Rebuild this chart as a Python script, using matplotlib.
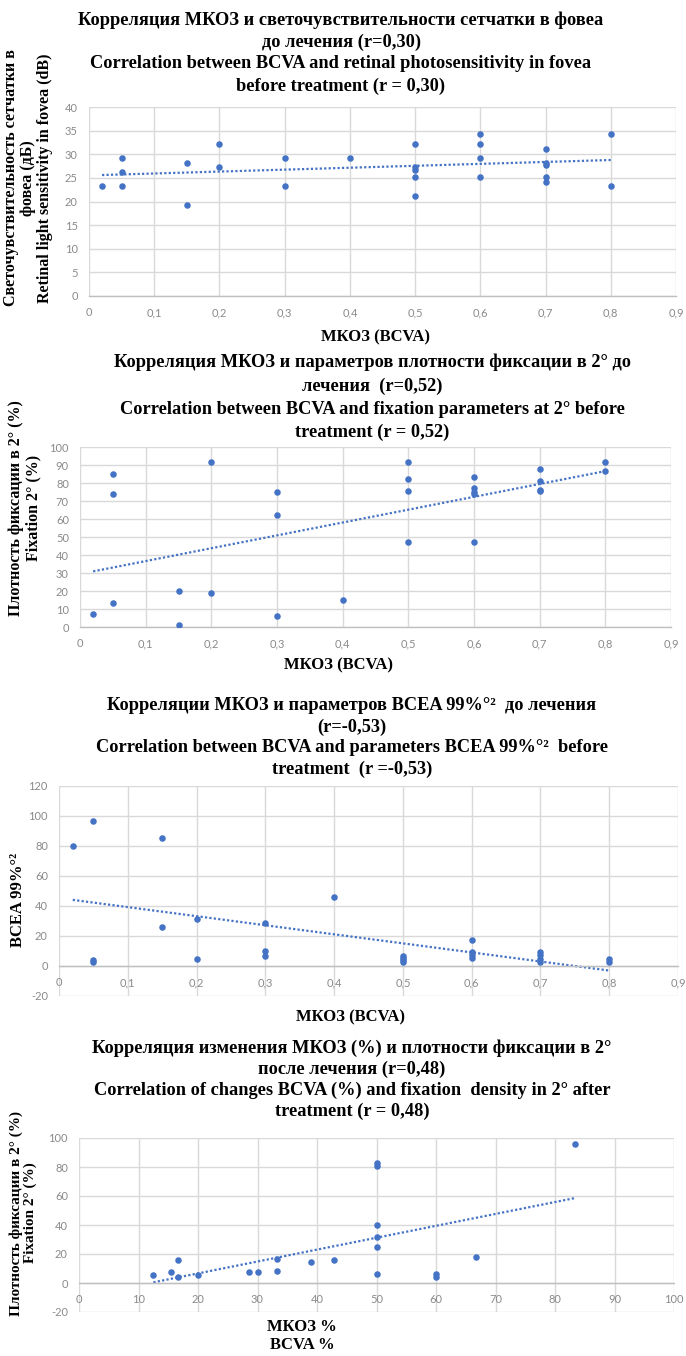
import numpy as np
import matplotlib
matplotlib.use("Agg")
import matplotlib.pyplot as plt

# ---------------- data ----------------
# Panel 1: BCVA vs retinal photosensitivity in fovea (dB), before treatment
bcva_fovea = [0.02, 0.05, 0.05, 0.05, 0.15, 0.15, 0.2, 0.2, 0.3, 0.3, 0.4,
              0.5, 0.5, 0.5, 0.5, 0.5, 0.6, 0.6, 0.6, 0.6,
              0.7, 0.7, 0.7, 0.7, 0.7, 0.8, 0.8]
sens_fovea = [23.2, 29.2, 26.2, 23.2, 28.2, 19.2, 32.2, 27.2, 29.2, 23.2, 29.2,
              32.2, 27.2, 26.6, 25.2, 21.2, 34.2, 32.2, 29.2, 25.2,
              31.2, 28.2, 27.8, 25.2, 24.2, 34.2, 23.2]

# Panel 2: BCVA vs fixation density at 2 degrees (%), before treatment
bcva_fix = [0.02, 0.05, 0.05, 0.05, 0.15, 0.15, 0.2, 0.2, 0.3, 0.3, 0.3, 0.4,
            0.5, 0.5, 0.5, 0.5, 0.6, 0.6, 0.6, 0.6, 0.6,
            0.7, 0.7, 0.7, 0.7, 0.8, 0.8]
fix2_before = [7, 85, 74, 13.5, 20, 1, 91.5, 19, 75, 62.5, 6, 15,
               91.5, 82.5, 75.5, 47.5, 83.5, 77, 75, 74, 47.5,
               88, 81, 76, 75.5, 91.5, 86.5]

# Panel 3: BCVA vs BCEA 99%, before treatment
bcva_bcea = [0.02, 0.05, 0.05, 0.05, 0.15, 0.15, 0.2, 0.2, 0.3, 0.3, 0.3, 0.4,
             0.5, 0.5, 0.5, 0.5, 0.6, 0.6, 0.6, 0.6,
             0.7, 0.7, 0.7, 0.7, 0.8, 0.8]
bcea99 = [80, 97, 4, 3, 85.5, 26, 31.5, 5, 29, 10, 6.5, 46,
          7, 5.5, 4, 3, 17.5, 9.5, 7.5, 5.5,
          9.5, 7.5, 4.5, 3, 4.5, 3]

# Panel 4: change of BCVA (%) vs fixation density at 2 degrees, after treatment
bcva_change = [12.5, 15.5, 16.7, 16.7, 20, 28.6, 30, 33.3, 33.3, 39, 42.9,
               50, 50, 50, 50, 50, 50, 60, 60, 66.7, 83.3]
fix2_after = [5.3, 7.4, 16, 3.9, 5.3, 7.6, 7.6, 16.8, 8.5, 14.3, 15.6,
              83, 81, 40, 31.7, 24.6, 6.2, 6.2, 3.9, 17.7, 96]

# ticks
bcva_ticks = [0, 0.1, 0.2, 0.3, 0.4, 0.5, 0.6, 0.7, 0.8, 0.9]
bcva_tick_labels = ["0", "0,1", "0,2", "0,3", "0,4", "0,5", "0,6", "0,7", "0,8", "0,9"]
sens_ticks = [0, 5, 10, 15, 20, 25, 30, 35, 40]
fix_ticks = [0, 10, 20, 30, 40, 50, 60, 70, 80, 90, 100]
bcea_ticks = [-20, 0, 20, 40, 60, 80, 100, 120]
pct_ticks = [0, 10, 20, 30, 40, 50, 60, 70, 80, 90, 100]
fix_after_ticks = [-20, 0, 20, 40, 60, 80, 100]

# titles
titles = [
    ["Корреляция МКОЗ и светочувствительности сетчатки в фовеа",
     "до лечения (r=0,30)",
     "Correlation between BCVA and retinal photosensitivity in fovea",
     "before treatment (r = 0,30)"],
    ["Корреляция МКОЗ и параметров плотности фиксации в 2° до",
     "лечения  (r=0,52)",
     "Correlation between BCVA and fixation parameters at 2° before",
     "treatment (r = 0,52)"],
    ["Корреляции МКОЗ и параметров BCEA 99%°²  до лечения",
     "(r=-0,53)",
     "Correlation between BCVA and parameters BCEA 99%°²  before",
     "treatment  (r =-0,53)"],
    ["Корреляция изменения МКОЗ (%) и плотности фиксации в 2°",
     "после лечения (r=0,48)",
     "Correlation of changes BCVA (%) and fixation  density in 2° after",
     "treatment (r = 0,48)"],
]

# ---------------- style ----------------
W, H = 686, 1356
BLUE = "#4472c4"
SERIF = ["Liberation Serif", "DejaVu Serif"]
TICKFONT = ["Lato", "DejaVu Sans"]

fig = plt.figure(figsize=(W / 100, H / 100), dpi=100)


def rect(l, r, t, b):
    return [l / W, 1 - b / H, (r - l) / W, (b - t) / H]


def fx(px):
    return px / W


def fy(py):
    return 1 - py / H


def scatter_panel(box, x, y, xticks, xlabels, yticks, ylim):
    ax = fig.add_axes(box)
    ax.set_xlim(xticks[0], xticks[-1])
    ax.set_ylim(*ylim)
    ax.set_xticks(xticks)
    ax.set_xticklabels(xlabels)
    ax.set_yticks(yticks)
    ax.set_yticklabels([str(v) for v in yticks])
    ax.grid(True, color="#d9d9d9", lw=1.0)
    ax.set_axisbelow(True)
    for s in ("top", "right", "left"):
        ax.spines[s].set_visible(False)
    ax.spines["bottom"].set_position(("data", 0))
    ax.spines["bottom"].set_color("#bfbfbf")
    ax.spines["bottom"].set_linewidth(1.0)
    ax.tick_params(length=0, labelsize=8, labelcolor="#8a8a8a", pad=8)
    for lab in ax.get_xticklabels() + ax.get_yticklabels():
        lab.set_family(TICKFONT)
    ax.scatter(x, y, s=22, color=BLUE, zorder=3, linewidths=0)
    k, b = np.polyfit(x, y, 1)
    xs = np.array([min(x), max(x)])
    ax.plot(xs, k * xs + b, color=BLUE, lw=1.6, ls=(0, (1, 1)), zorder=2)
    return ax


def title_block(lines, xc, ys):
    for line, yy in zip(lines, ys):
        fig.text(fx(xc), fy(yy), line, ha="center", va="center",
                 family=SERIF, fontweight="bold", fontsize=13.2)


def axis_text(txt, x, y, rot=0, size=12):
    fig.text(fx(x), fy(y), txt, ha="center", va="center", rotation=rot,
             family=SERIF, fontweight="bold", fontsize=size,
             multialignment="center", linespacing=1.1)


# ---- panel 1 ----
title_block(titles[0], 341, [20, 42, 64, 86])
scatter_panel(rect(89, 676, 107, 296), bcva_fovea, sens_fovea,
              bcva_ticks, bcva_tick_labels, sens_ticks, (0, 40))
axis_text("Светочувствительность сетчатки в\nфовеа (дБ)\nRetinal light sensitivity in fovea (dB)",
          28, 178, rot=90, size=11.5)
axis_text("МКОЗ (BCVA)", 376, 337)

# ---- panel 2 ----
title_block(titles[1], 372, [362, 386, 409, 432])
scatter_panel(rect(80, 671, 447, 627), bcva_fix, fix2_before,
              bcva_ticks, bcva_tick_labels, fix_ticks, (0, 100))
axis_text("Плотность фиксации в 2° (%)\nFixation 2° (%)", 25, 508, rot=90, size=11.5)
axis_text("МКОЗ (BCVA)", 339, 665)

# ---- panel 3 ----
title_block(titles[2], 352, [706, 727, 748, 769])
scatter_panel(rect(59, 678, 786, 996), bcva_bcea, bcea99,
              bcva_ticks, bcva_tick_labels, bcea_ticks, (-20, 120))
axis_text("BCEA 99%°²", 18, 900, rot=90, size=12)
axis_text("МКОЗ (BCVA)", 350, 1017)

# ---- panel 4 ----
title_block(titles[3], 352, [1048, 1069, 1090, 1111])
scatter_panel(rect(79, 674, 1138, 1312), bcva_change, fix2_after,
              pct_ticks, [str(v) for v in pct_ticks], fix_after_ticks, (-20, 100))
axis_text("Плотность фиксации в 2° (%)\nFixation 2° (%)", 23, 1213, rot=90, size=11)
axis_text("МКОЗ %\nBCVA %", 302, 1336)

fig.savefig("out.png", dpi=100)
